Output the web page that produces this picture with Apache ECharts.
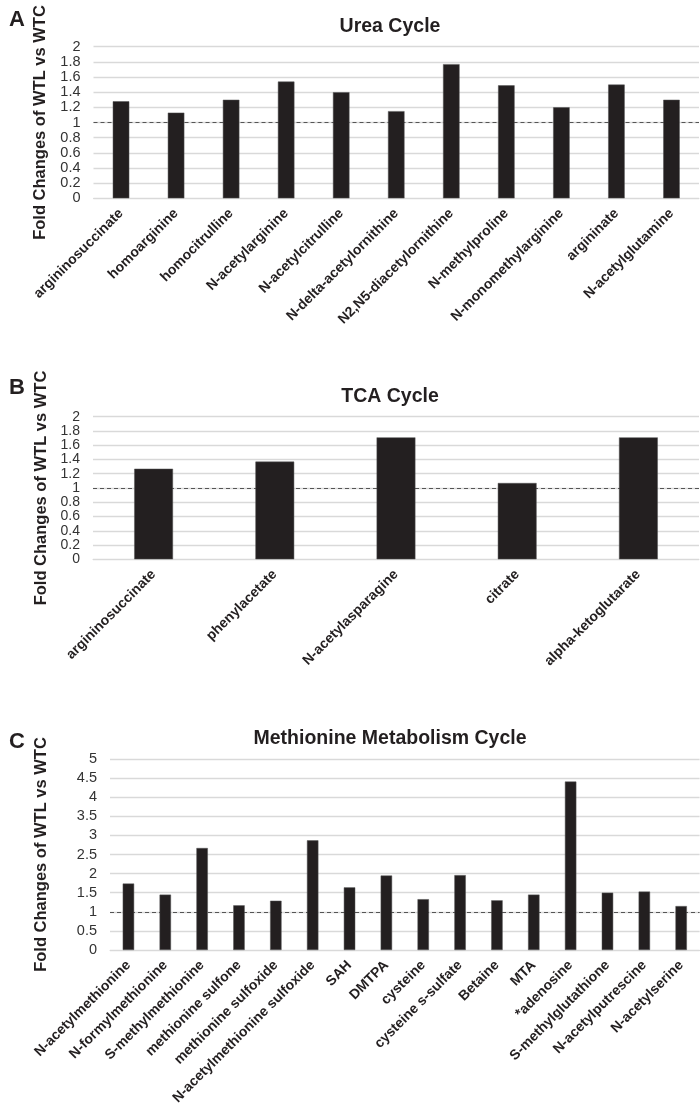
<!DOCTYPE html>
<html>
<head>
<meta charset="utf-8">
<script src="https://cdn.jsdelivr.net/npm/echarts@6/dist/echarts.min.js"></script>
<style>
html,body{margin:0;padding:0;background:#fff;}
#chart{width:700px;height:1116px;}
</style>
</head>
<body>
<div id="chart"></div>
<script>
// ---- Data ----
const ureaCategories = ["argininosuccinate","homoarginine","homocitrulline","N-acetylarginine","N-acetylcitrulline","N-delta-acetylornithine","N2,N5-diacetylornithine","N-methylproline","N-monomethylarginine","argininate","N-acetylglutamine"];
const ureaValues = [1.28,1.13,1.30,1.54,1.40,1.15,1.77,1.49,1.20,1.50,1.30];

const tcaCategories = ["argininosuccinate","phenylacetate","N-acetylasparagine","citrate","alpha-ketoglutarate"];
const tcaValues = [1.27,1.37,1.71,1.07,1.71];

const metCategories = ["N-acetylmethionine","N-formylmethionine","S-methylmethionine","methionine sulfone","methionine sulfoxide","N-acetylmethionine sulfoxide","SAH","DMTPA","cysteine","cysteine s-sulfate","Betaine","MTA","*adenosine","S-methylglutathione","N-acetylputrescine","N-acetylserine"];
const metValues = [1.74,1.45,2.67,1.17,1.29,2.87,1.64,1.95,1.33,1.96,1.30,1.45,4.41,1.50,1.53,1.15];

const titles = ["Urea Cycle","TCA Cycle","Methionine Metabolism Cycle"];
const panelLetters = ["A","B","C"];
const yAxisName = "Fold Changes of WTL vs WTC";
const referenceLevel = 1;

// ---- Styles ----
const barColor = "#231f20";
const gridColor = "#d9d9d9";
const textColor = "#231f20";
const fontFam = "'Liberation Sans', Arial, sans-serif";

const grids = [
  {left: 93.5, top: 46.7, width: 605.5, height: 151.6},
  {left: 93, top: 416.7, width: 606, height: 142.6},
  {left: 110, top: 759, width: 589.6, height: 191}
];
const yCfg = [
  {max: 2, interval: 0.2, nameGap: 43, fs: 14.5},
  {max: 2, interval: 0.2, nameGap: 43, fs: 14},
  {max: 5, interval: 0.5, nameGap: 60, fs: 14.5}
];
const cats = [ureaCategories, tcaCategories, metCategories];
const vals = [ureaValues, tcaValues, metValues];
const barWidths = ['30%','32%','31%'];
const titleTops = [12, 382, 724];
const letterTops = [4, 372, 726];

const option = {
  animation: false,
  backgroundColor: '#fff',
  title: titles.map((t,i)=>({
    text: t, left: 385, top: titleTops[i], textAlign: 'center',
    textStyle: {fontFamily: fontFam, fontSize: 19.5, fontWeight: 'bold', color: textColor}
  })).concat(panelLetters.map((l,i)=>({
    text: l, left: 4, top: letterTops[i],
    textStyle: {fontFamily: fontFam, fontSize: 22, fontWeight: 'bold', color: textColor}
  }))),
  grid: grids.map(g=>Object.assign({containLabel:false}, g)),
  xAxis: cats.map((c,i)=>({
    type: 'category', gridIndex: i, data: c,
    axisLine: {show: true, lineStyle: {color: gridColor, width: 1}},
    axisTick: {show: false},
    axisLabel: {interval: 0, rotate: 45, margin: 13, fontFamily: fontFam, fontSize: 14, fontWeight: 'bold', color: textColor}
  })),
  yAxis: yCfg.map((y,i)=>({
    type: 'value', gridIndex: i, min: 0, max: y.max, interval: y.interval,
    name: yAxisName, nameLocation: 'middle', nameRotate: 90, nameGap: y.nameGap,
    nameTextStyle: {fontFamily: fontFam, fontSize: 16.5, fontWeight: 'bold', color: textColor},
    axisLine: {show: false}, axisTick: {show: false},
    axisLabel: {margin: 13, fontFamily: fontFam, fontSize: y.fs, color: '#333', showMinLabel: true, showMaxLabel: true, hideOverlap: false, lineHeight: 12},
    splitLine: {lineStyle: {color: gridColor, width: 1.3}}
  })),
  series: vals.map((v,i)=>({
    type: 'bar', xAxisIndex: i, yAxisIndex: i, data: v,
    barWidth: barWidths[i],
    itemStyle: {color: barColor, borderColor: '#555', borderWidth: 0.5},
    markLine: {
      silent: true, symbol: 'none', label: {show: false},
      lineStyle: {color: '#555', type: [4,3], width: 1},
      data: [{yAxis: referenceLevel}],
      z: 1
    }
  }))
};

const chart = echarts.init(document.getElementById('chart'), null, {renderer: 'canvas'});
chart.setOption(option);
</script>
</body>
</html>
